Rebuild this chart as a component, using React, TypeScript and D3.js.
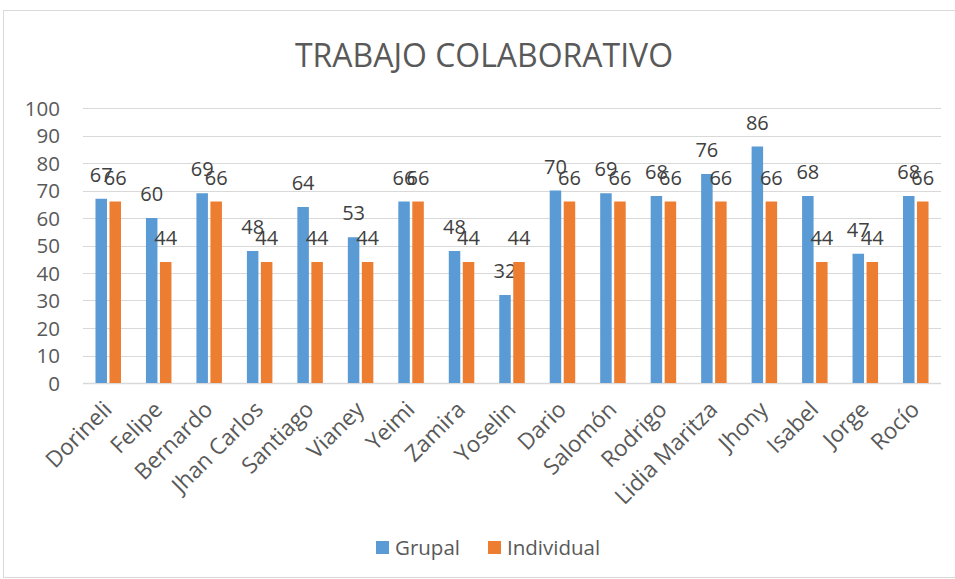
import React, { useRef, useEffect } from "react";
import * as d3 from "d3";

const names = [
  "Dorineli", "Felipe", "Bernardo", "Jhan Carlos", "Santiago", "Vianey",
  "Yeimi", "Zamira", "Yoselin", "Dario", "Salomón", "Rodrigo",
  "Lidia Maritza", "Jhony", "Isabel", "Jorge", "Rocío",
];
const grupal = [67, 60, 69, 48, 64, 53, 66, 48, 32, 70, 69, 68, 76, 86, 68, 47, 68];
const individual = [66, 44, 66, 44, 44, 44, 66, 44, 44, 66, 66, 66, 66, 66, 44, 44, 66];
const seriesNames = ["Grupal", "Individual"];
const yTicks = [0, 10, 20, 30, 40, 50, 60, 70, 80, 90, 100];

const App = () => {
  const svgRef = useRef(null);

  useEffect(() => {
    const root = d3.select(svgRef.current);
    root.selectAll("*").remove();

    const font = "'Open Sans', sans-serif";
    const textColor = "#595959";
    const colors = ["#5B9BD5", "#ED7D31"];

    // outer chart border
    root
      .append("rect")
      .attr("x", 3.5)
      .attr("y", 10.5)
      .attr("width", 970)
      .attr("height", 567)
      .attr("fill", "white")
      .attr("stroke", "#D9D9D9");

    // title
    root
      .append("text")
      .attr("x", 295)
      .attr("y", 67)
      .attr("textLength", 378)
      .attr("lengthAdjust", "spacingAndGlyphs")
      .style("font-family", font)
      .style("font-size", "33px")
      .style("fill", textColor)
      .text("TRABAJO COLABORATIVO");

    const left = 83;
    const right = 941;
    const top = 108;
    const bottom = 383;

    const x = d3.scaleBand().domain(names).range([left, right]).padding(0);
    const y = d3.scaleLinear().domain([0, 100]).range([bottom, top]);

    const barW = 11.5;
    const gap = 2.5;

    // gridlines
    root
      .append("g")
      .selectAll("line")
      .data(yTicks)
      .enter()
      .append("line")
      .attr("x1", left)
      .attr("x2", right)
      .attr("y1", (d) => Math.round(y(d)) + 0.5)
      .attr("y2", (d) => Math.round(y(d)) + 0.5)
      .attr("stroke", "#D9D9D9")
      .attr("stroke-width", (d) => (d === 0 ? 1.5 : 1));

    // y labels
    root
      .append("g")
      .selectAll("text")
      .data(yTicks)
      .enter()
      .append("text")
      .attr("x", 60)
      .attr("y", (d) => y(d) + 7.5)
      .attr("text-anchor", "end")
      .style("font-family", font)
      .style("font-size", "20.5px")
      .style("fill", textColor)
      .text((d) => d);

    const series = [grupal, individual];
    series.forEach((vals, si) => {
      const offset = si === 0 ? -gap / 2 - barW : gap / 2;
      const g = root.append("g");
      g.selectAll("rect")
        .data(vals)
        .enter()
        .append("rect")
        .attr("x", (d, i) => x(names[i]) + x.bandwidth() / 2 + offset)
        .attr("y", (d) => y(d))
        .attr("width", barW)
        .attr("height", (d) => bottom - y(d))
        .attr("fill", colors[si]);
      g.selectAll("text")
        .data(vals)
        .enter()
        .append("text")
        .attr("x", (d, i) => x(names[i]) + x.bandwidth() / 2 + offset + barW / 2)
        .attr("y", (d) => y(d) - 17)
        .attr("text-anchor", "middle")
        .style("font-family", font)
        .style("font-size", "20px")
        .style("fill", "#404040")
        .text((d) => d);
    });

    // category labels
    root
      .append("g")
      .selectAll("text")
      .data(names)
      .enter()
      .append("text")
      .attr(
        "transform",
        (d) => "translate(" + (x(d) + x.bandwidth() / 2 + 5) + "," + 411 + ") rotate(-45)"
      )
      .attr("text-anchor", "end")
      .style("font-family", font)
      .style("font-size", "22.5px")
      .style("fill", textColor)
      .text((d) => d);

    // legend
    const legendX = [376, 488];
    seriesNames.forEach((s, i) => {
      root
        .append("rect")
        .attr("x", legendX[i])
        .attr("y", 541)
        .attr("width", 13)
        .attr("height", 13)
        .attr("fill", colors[i]);
      root
        .append("text")
        .attr("x", legendX[i] + 19)
        .attr("y", 555)
        .style("font-family", font)
        .style("font-size", "20.5px")
        .style("fill", textColor)
        .text(s);
    });
  }, []);

  return (
    <svg
      ref={svgRef}
      width={955}
      height={579}
      style={{ position: "absolute", left: 0, top: 0 }}
    ></svg>
  );
};

export default App;
